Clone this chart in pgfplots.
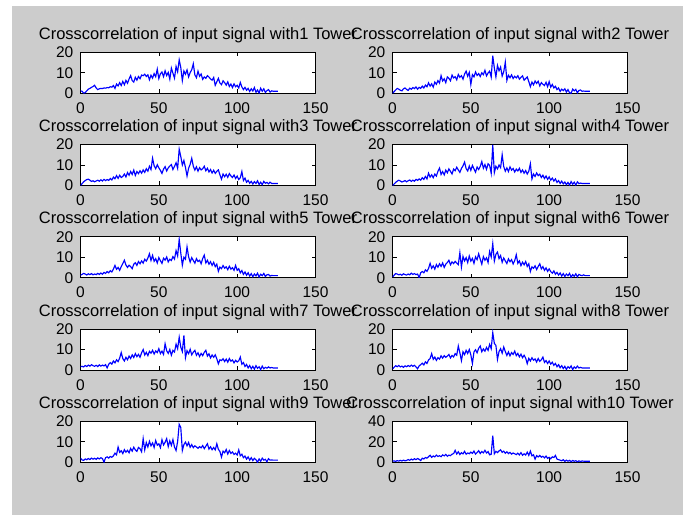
\documentclass[border=0pt]{standalone}
\usepackage{fontspec}
\setmainfont{Liberation Sans}
\usepackage{pgfplots}
\pgfplotsset{compat=1.18}
\definecolor{figgray}{RGB}{204,204,204}
\pgfplotsset{
  sub/.style={
    scale only axis, width=235pt, height=41pt, anchor=north west,
    xmin=0, xmax=150, ymin=0, ymax=20,
    xtick={0,50,100,150}, ytick={0,10,20},
    tick align=inside, major tick length=4pt,
    axis background/.style={fill=white},
    axis line style={line width=0.8pt},
    every tick/.style={black, line width=0.6pt},
    /pgf/number format/assume math mode=true,
    tick label style={font=\fontsize{15.5}{16}\selectfont, inner sep=0pt},
    xticklabel style={anchor=base, yshift=-20pt},
    yticklabel style={anchor=east, xshift=-7pt},
    every axis title/.style={at={(0.5,1)}, anchor=base, yshift=13pt,
      font=\fontsize{16.5}{18}\selectfont},
  },
  sig/.style={blue, line width=1.15pt, mark=none},
}
\begin{document}
\begin{tikzpicture}
\fill[white] (0,0) rectangle (688pt,515pt);
\fill[figgray] (12pt,0) rectangle (683pt,509pt);

% row 1
\begin{axis}[sub, at={(80.5pt,462.7pt)}, title={Crosscorrelation of input signal with1 Tower}]
\addplot[sig] table[row sep=\\, header=false, x expr=\coordindex, y index=0] {
1.2\\1.0\\0.1\\0.3\\1.2\\2.0\\2.4\\2.9\\3.3\\3.9\\
2.6\\1.8\\2.2\\2.4\\2.3\\2.6\\2.5\\2.8\\2.7\\3.2\\
3.0\\3.8\\2.4\\4.5\\3.6\\5.2\\3.8\\5.8\\4.2\\6.3\\
4.9\\7.0\\8.6\\6.2\\5.5\\7.8\\6.4\\8.2\\7.1\\8.9\\
8.6\\9.3\\8.2\\9.0\\6.6\\8.8\\7.4\\9.6\\8.1\\11.8\\
7.2\\9.5\\10.4\\8.1\\11.0\\8.7\\10.2\\6.9\\12.3\\9.8\\
7.4\\13.1\\10.5\\16.3\\12.6\\6.2\\10.9\\9.3\\11.4\\8.0\\
10.1\\11.5\\14.4\\9.0\\7.6\\10.8\\8.3\\9.4\\6.8\\8.0\\
7.3\\8.6\\7.9\\7.0\\6.4\\7.7\\3.9\\5.6\\7.3\\5.0\\
4.2\\6.1\\5.2\\4.0\\5.6\\3.3\\4.5\\2.8\\4.6\\3.2\\
3.9\\2.6\\5.3\\3.1\\1.8\\2.9\\1.5\\2.4\\0.9\\2.2\\
1.1\\2.8\\0.5\\1.6\\0.2\\2.5\\1.0\\2.2\\0.4\\1.3\\
1.8\\0.6\\1.2\\1.0\\1.0\\1.0\\1.0\\
};
\end{axis}
\begin{axis}[sub, at={(392.5pt,462.7pt)}, title={Crosscorrelation of input signal with2 Tower}]
\addplot[sig] table[row sep=\\, header=false, x expr=\coordindex, y index=0] {
0.0\\0.8\\1.6\\2.4\\2.0\\1.5\\1.2\\2.2\\2.6\\1.9\\
1.4\\2.5\\2.0\\2.8\\2.3\\3.1\\2.0\\2.9\\2.4\\3.5\\
2.6\\4.0\\3.2\\5.1\\3.5\\4.6\\3.0\\5.5\\4.4\\6.2\\
5.0\\8.6\\6.0\\7.1\\5.2\\8.0\\7.3\\6.1\\8.9\\7.5\\
8.1\\6.6\\9.2\\7.8\\8.6\\6.9\\9.4\\10.8\\8.3\\10.2\\
4.3\\9.1\\8.0\\10.4\\8.7\\9.6\\8.2\\10.0\\9.1\\11.2\\
8.5\\9.9\\10.8\\7.9\\18.4\\12.3\\8.0\\13.6\\11.0\\12.8\\
8.4\\10.5\\15.2\\6.3\\8.8\\7.6\\9.0\\7.2\\8.3\\7.5\\
8.6\\6.9\\7.8\\8.5\\6.4\\7.2\\8.0\\5.7\\3.2\\5.5\\
4.1\\6.0\\4.8\\5.9\\3.6\\5.2\\4.4\\3.8\\5.4\\3.2\\
5.7\\3.0\\4.3\\2.6\\3.4\\1.8\\2.6\\0.9\\2.0\\1.3\\
2.2\\0.6\\1.8\\0.3\\0.0\\2.0\\1.2\\1.9\\0.2\\1.4\\
1.6\\1.0\\1.1\\1.0\\1.0\\1.0\\1.0\\
};
\end{axis}

% row 2
\begin{axis}[sub, at={(80.5pt,370.5pt)}, title={Crosscorrelation of input signal with3 Tower}]
\addplot[sig] table[row sep=\\, header=false, x expr=\coordindex, y index=0] {
0.0\\0.9\\1.8\\2.4\\2.9\\3.1\\2.6\\2.0\\2.3\\1.8\\
2.2\\2.6\\2.1\\2.8\\2.2\\3.0\\2.4\\2.9\\2.5\\3.4\\
2.7\\4.1\\3.3\\4.8\\3.5\\5.0\\3.9\\4.4\\5.6\\4.2\\
6.3\\5.0\\6.8\\5.4\\7.5\\4.9\\6.8\\5.8\\7.2\\6.0\\
7.6\\6.4\\8.2\\7.0\\9.4\\7.8\\13.3\\9.6\\8.2\\10.1\\
8.6\\7.4\\5.9\\8.0\\9.2\\7.1\\8.6\\9.5\\10.2\\7.8\\
9.3\\11.1\\8.4\\17.7\\14.2\\10.0\\12.2\\8.8\\4.6\\8.4\\
10.3\\13.3\\9.4\\7.5\\9.1\\7.0\\8.7\\7.6\\8.2\\9.4\\
7.2\\8.4\\6.6\\7.8\\6.1\\7.4\\5.9\\6.9\\7.6\\5.2\\
3.1\\5.6\\4.3\\5.5\\4.0\\5.8\\4.7\\3.9\\5.1\\3.4\\
4.6\\2.9\\3.8\\6.8\\2.4\\3.6\\1.6\\2.5\\1.1\\2.0\\
0.7\\1.9\\1.0\\2.3\\0.5\\1.6\\0.4\\2.0\\1.1\\1.5\\
0.8\\1.6\\1.0\\1.0\\1.0\\1.0\\1.0\\
};
\end{axis}
\begin{axis}[sub, at={(392.5pt,370.5pt)}, title={Crosscorrelation of input signal with4 Tower}]
\addplot[sig] table[row sep=\\, header=false, x expr=\coordindex, y index=0] {
0.0\\0.7\\1.5\\2.1\\2.6\\2.2\\1.7\\2.0\\2.4\\1.8\\
2.3\\2.7\\2.0\\2.6\\2.1\\3.0\\2.5\\3.2\\2.6\\3.8\\
3.0\\4.4\\3.2\\6.0\\4.1\\5.2\\3.8\\5.6\\4.6\\6.9\\
8.5\\5.4\\6.8\\5.2\\7.5\\6.2\\8.1\\6.9\\5.6\\8.0\\
7.2\\8.9\\7.6\\6.4\\8.3\\9.6\\11.4\\8.2\\7.1\\9.5\\
7.4\\9.8\\8.1\\6.5\\9.0\\7.8\\9.3\\11.7\\8.4\\10.2\\
7.9\\10.6\\9.8\\6.0\\19.8\\6.3\\9.4\\8.1\\10.0\\8.7\\
15.0\\9.2\\7.0\\8.6\\6.8\\9.1\\7.5\\8.3\\6.6\\8.0\\
7.1\\8.4\\6.4\\7.6\\6.0\\7.3\\5.6\\7.0\\10.6\\3.2\\
5.6\\4.4\\6.1\\4.8\\5.5\\3.9\\5.0\\3.4\\4.6\\3.0\\
4.2\\2.6\\3.6\\2.2\\3.2\\1.5\\2.4\\1.0\\2.1\\0.8\\
1.7\\0.4\\1.5\\0.2\\1.9\\0.6\\1.6\\0.2\\1.8\\0.9\\
1.2\\1.0\\1.0\\1.0\\1.0\\1.0\\1.0\\
};
\end{axis}

% row 3
\begin{axis}[sub, at={(80.5pt,278.3pt)}, title={Crosscorrelation of input signal with5 Tower}]
\addplot[sig] table[row sep=\\, header=false, x expr=\coordindex, y index=0] {
1.2\\1.6\\2.1\\1.8\\1.3\\1.9\\1.5\\2.0\\1.4\\1.8\\
1.5\\2.1\\1.6\\2.3\\1.7\\2.6\\2.1\\3.0\\2.4\\3.4\\
2.8\\4.2\\6.0\\4.1\\5.0\\3.6\\5.4\\6.9\\8.5\\6.2\\
5.0\\6.1\\5.4\\4.4\\6.6\\7.3\\6.0\\7.9\\6.8\\8.2\\
7.1\\9.0\\8.1\\9.6\\11.7\\8.4\\10.9\\8.0\\9.3\\7.2\\
9.8\\8.3\\7.0\\9.5\\8.6\\10.1\\7.7\\9.0\\8.4\\10.3\\
9.1\\13.2\\10.6\\18.7\\12.1\\6.1\\10.0\\9.0\\15.0\\10.2\\
7.6\\9.8\\8.4\\7.1\\9.3\\7.9\\8.5\\6.8\\9.4\\11.0\\
7.2\\8.5\\6.6\\7.8\\6.0\\7.5\\5.4\\6.6\\3.1\\5.2\\
4.4\\5.9\\4.6\\5.3\\3.9\\5.6\\4.2\\4.9\\3.6\\6.0\\
3.6\\4.4\\2.4\\3.5\\1.6\\2.8\\1.2\\2.4\\0.8\\2.0\\
0.5\\1.8\\0.9\\2.2\\0.3\\1.7\\1.0\\2.1\\0.6\\1.4\\
1.6\\0.8\\1.1\\1.0\\1.0\\1.0\\1.0\\
};
\end{axis}
\begin{axis}[sub, at={(392.5pt,278.3pt)}, title={Crosscorrelation of input signal with6 Tower}]
\addplot[sig] table[row sep=\\, header=false, x expr=\coordindex, y index=0] {
0.3\\1.2\\2.0\\1.8\\1.4\\1.7\\1.2\\1.9\\1.5\\1.3\\
1.8\\1.4\\2.2\\1.6\\2.0\\1.5\\1.8\\0.0\\2.4\\3.0\\
2.4\\3.8\\3.1\\4.5\\7.0\\4.6\\5.8\\4.2\\6.4\\5.1\\
6.8\\5.5\\7.2\\5.0\\6.6\\7.4\\8.5\\6.3\\7.7\\6.9\\
8.0\\7.1\\6.4\\12.2\\5.2\\10.4\\8.2\\9.8\\7.4\\10.6\\
8.1\\9.4\\7.0\\10.2\\8.8\\11.7\\9.0\\6.6\\10.3\\8.5\\
9.7\\7.4\\12.8\\10.1\\16.6\\8.1\\11.4\\12.5\\9.3\\10.8\\
7.5\\9.6\\8.2\\6.9\\9.2\\7.8\\8.8\\6.7\\8.3\\11.2\\
7.0\\8.2\\5.9\\7.6\\6.3\\7.9\\5.5\\6.8\\3.0\\5.3\\
4.6\\5.8\\4.0\\5.5\\6.8\\4.3\\5.4\\3.6\\4.8\\3.1\\
4.3\\3.0\\2.2\\3.3\\1.7\\2.6\\1.3\\2.3\\0.8\\2.0\\
0.6\\1.8\\1.0\\2.1\\0.2\\1.5\\0.7\\1.9\\0.4\\1.6\\
1.2\\1.0\\1.4\\1.0\\1.0\\1.0\\1.0\\
};
\end{axis}

% row 4
\begin{axis}[sub, at={(80.5pt,186.0pt)}, title={Crosscorrelation of input signal with7 Tower}]
\addplot[sig] table[row sep=\\, header=false, x expr=\coordindex, y index=0] {
1.6\\1.8\\1.5\\2.2\\1.7\\2.4\\1.9\\2.6\\2.1\\1.8\\
2.3\\1.7\\2.5\\1.9\\2.4\\2.0\\2.6\\1.0\\2.8\\3.6\\
2.9\\4.4\\3.5\\5.0\\4.1\\5.8\\8.5\\5.6\\4.4\\6.2\\
5.0\\6.8\\5.6\\7.4\\6.1\\8.0\\6.5\\7.6\\6.2\\8.4\\
10.0\\7.3\\8.6\\7.0\\9.1\\8.2\\9.6\\7.8\\9.3\\8.5\\
10.4\\8.0\\9.2\\7.6\\12.8\\9.4\\8.1\\10.0\\7.2\\9.6\\
8.8\\12.6\\10.4\\16.0\\11.2\\9.0\\16.9\\6.0\\9.4\\8.0\\
10.1\\7.4\\8.7\\9.6\\7.2\\8.4\\6.6\\8.1\\7.0\\8.6\\
9.6\\6.8\\7.9\\5.9\\7.3\\6.2\\7.4\\5.5\\3.0\\5.0\\
4.6\\5.5\\4.1\\5.3\\3.8\\5.6\\4.3\\4.9\\3.5\\4.7\\
3.9\\4.5\\6.3\\2.8\\3.6\\1.7\\2.7\\1.0\\2.2\\0.6\\
1.8\\0.4\\2.1\\0.8\\1.6\\0.2\\1.9\\0.6\\1.3\\0.9\\
1.5\\1.0\\1.2\\1.0\\1.0\\1.0\\1.0\\
};
\end{axis}
\begin{axis}[sub, at={(392.5pt,186.0pt)}, title={Crosscorrelation of input signal with8 Tower}]
\addplot[sig] table[row sep=\\, header=false, x expr=\coordindex, y index=0] {
0.5\\1.3\\2.1\\1.6\\2.2\\1.5\\1.9\\1.3\\2.0\\1.6\\
2.2\\1.7\\2.4\\1.8\\2.3\\1.5\\0.6\\2.0\\2.6\\3.3\\
2.5\\4.0\\3.2\\4.9\\5.6\\8.0\\5.2\\6.3\\4.7\\6.0\\
5.3\\6.9\\5.8\\7.0\\6.2\\6.8\\7.6\\5.9\\7.1\\6.4\\
8.0\\7.2\\11.7\\8.4\\4.6\\8.9\\7.5\\9.6\\8.1\\10.0\\
7.4\\3.2\\8.8\\9.9\\8.4\\10.6\\11.7\\8.9\\10.3\\9.2\\
11.0\\9.6\\12.5\\10.4\\18.2\\13.0\\12.0\\5.2\\9.0\\10.4\\
8.2\\11.2\\9.0\\7.1\\8.8\\6.9\\8.5\\7.6\\9.2\\7.0\\
8.1\\6.4\\7.7\\6.0\\7.2\\5.8\\3.1\\5.7\\4.4\\6.0\\
4.8\\5.4\\3.9\\5.6\\4.2\\5.0\\6.3\\3.7\\4.6\\3.2\\
4.4\\2.9\\3.8\\2.3\\3.2\\1.6\\2.6\\1.1\\2.1\\0.7\\
1.8\\0.3\\1.6\\0.9\\2.0\\0.2\\1.5\\0.8\\1.9\\1.0\\
1.3\\1.0\\1.0\\1.0\\1.0\\1.0\\1.0\\
};
\end{axis}

% row 5
\begin{axis}[sub, at={(80.5pt,93.8pt)}, title={Crosscorrelation of input signal with9 Tower}]
\addplot[sig] table[row sep=\\, header=false, x expr=\coordindex, y index=0] {
2.0\\1.1\\0.9\\1.6\\1.2\\1.8\\1.3\\2.0\\1.5\\1.9\\
1.4\\2.1\\1.6\\2.2\\1.8\\0.0\\2.2\\2.6\\2.0\\2.8\\
2.4\\3.1\\4.4\\3.6\\7.4\\4.8\\5.6\\4.2\\6.1\\4.9\\
5.8\\4.6\\6.7\\5.4\\7.3\\6.0\\5.3\\7.2\\6.6\\5.1\\
11.5\\6.0\\9.6\\7.4\\10.2\\8.0\\9.4\\7.2\\10.6\\8.3\\
9.0\\7.1\\11.0\\8.4\\9.7\\11.5\\7.6\\10.4\\8.2\\11.0\\
7.4\\5.7\\10.1\\18.5\\17.0\\5.7\\8.6\\9.8\\8.0\\9.6\\
7.3\\8.6\\7.1\\8.0\\7.4\\6.8\\7.6\\7.0\\8.1\\6.6\\
7.8\\9.0\\6.4\\7.5\\6.1\\7.2\\6.0\\9.0\\6.3\\5.2\\
2.5\\5.4\\4.6\\6.2\\4.0\\5.7\\4.3\\5.0\\3.8\\4.4\\
3.5\\6.0\\3.1\\3.9\\2.2\\3.0\\1.5\\2.6\\1.0\\2.2\\
0.8\\1.9\\1.2\\0.0\\1.6\\0.5\\2.0\\1.0\\1.4\\0.2\\
1.7\\1.0\\1.1\\1.0\\1.0\\1.0\\1.0\\
};
\end{axis}
\begin{axis}[sub, at={(392.5pt,93.8pt)}, ymax=40, ytick={0,20,40}, title={Crosscorrelation of input signal with10 Tower}]
\addplot[sig] table[row sep=\\, header=false, x expr=\coordindex, y index=0] {
1.0\\1.3\\0.8\\1.5\\1.1\\1.8\\1.2\\2.0\\1.4\\1.7\\
2.6\\1.9\\3.0\\2.2\\3.4\\2.5\\3.6\\2.8\\1.6\\3.9\\
3.2\\4.6\\3.9\\5.4\\6.8\\4.7\\6.1\\5.2\\6.9\\5.6\\
6.3\\5.4\\7.1\\6.2\\7.6\\5.8\\6.9\\6.4\\7.8\\8.4\\
11.5\\8.0\\10.2\\7.5\\9.3\\8.1\\10.6\\7.8\\9.0\\8.3\\
9.8\\8.6\\10.9\\7.9\\9.4\\11.2\\8.5\\10.4\\9.1\\11.6\\
9.0\\10.3\\7.2\\7.8\\26.0\\8.2\\10.6\\9.4\\11.0\\12.1\\
9.6\\10.8\\8.7\\10.2\\8.4\\9.6\\7.9\\9.0\\8.2\\7.4\\
8.8\\7.1\\9.3\\6.8\\8.2\\7.0\\9.8\\6.7\\10.8\\6.2\\
7.2\\3.0\\6.4\\5.1\\6.6\\4.9\\5.8\\4.2\\6.0\\3.7\\
4.8\\3.4\\5.2\\4.6\\6.6\\3.0\\2.5\\2.0\\1.4\\2.4\\
0.8\\2.0\\1.0\\1.8\\0.5\\1.7\\0.9\\1.5\\0.4\\1.3\\
0.7\\1.2\\1.0\\1.0\\1.0\\1.0\\1.0\\
};
\end{axis}
\end{tikzpicture}
\end{document}
